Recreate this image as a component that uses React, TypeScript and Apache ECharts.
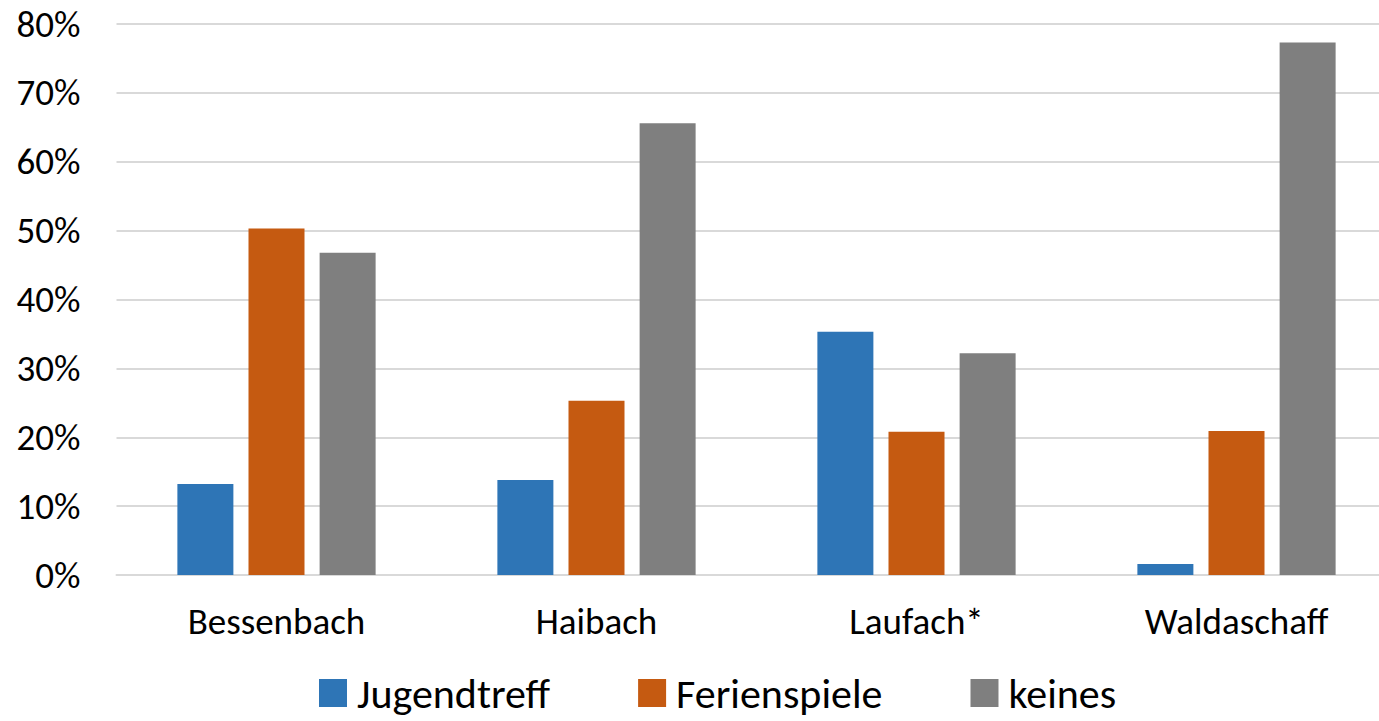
import React, { useEffect, useRef } from "react";
import * as echarts from "echarts";

const categories = ["Bessenbach", "Haibach", "Laufach*", "Waldaschaff"];
const jugendtreff = [13.2, 13.8, 35.3, 1.6];
const ferienspiele = [50.3, 25.3, 20.8, 20.9];
const keines = [46.8, 65.6, 32.2, 77.3];
const seriesNames = ["Jugendtreff", "Ferienspiele", "keines"];
const colors = ["#2E75B6", "#C55A11", "#7F7F7F"];

export default function App() {
  const ref = useRef<HTMLDivElement>(null);
  useEffect(() => {
    const chart = echarts.init(ref.current!, null, { renderer: "svg" });
    const font = "Carlito, Calibri, Lato, 'Open Sans', sans-serif";
    const data = [jugendtreff, ferienspiele, keines];
    chart.setOption({
      animation: false,
      grid: { left: 116.5, right: 3.5, top: 24, bottom: 146, containLabel: false },
      legend: {
        top: 672,
        left: 319,
        padding: 0,
        itemWidth: 28,
        itemHeight: 28,
        itemGap: 88,
        icon: "rect",
        textStyle: { fontFamily: font, fontSize: 42, lineHeight: 42, color: "#000", padding: [0, 0, 0, 5] },
        data: seriesNames,
      },
      xAxis: {
        type: "category",
        data: categories,
        axisLine: { lineStyle: { color: "#D9D9D9", width: 2 } },
        axisTick: { show: false },
        axisLabel: { fontFamily: font, fontSize: 37, color: "#000", margin: 28 },
      },
      yAxis: {
        type: "value",
        min: 0,
        max: 80,
        interval: 10,
        axisLine: { show: false },
        axisTick: { show: false },
        splitLine: { lineStyle: { color: "#D9D9D9", width: 2 } },
        axisLabel: { fontFamily: font, fontSize: 37, color: "#000", margin: 36, formatter: "{value}%" },
      },
      series: seriesNames.map((name, i) => ({
        name,
        type: "bar",
        data: data[i],
        barWidth: 56,
        barGap: "27%",
        itemStyle: { color: colors[i] },
      })),
    });
    return () => chart.dispose();
  }, []);
  return (
    <div style={{ width: 1379, height: 721, position: "absolute", left: 0, top: 0, overflow: "hidden" }}>
      <div ref={ref} style={{ width: 1400, height: 721 }} />
    </div>
  );
}
